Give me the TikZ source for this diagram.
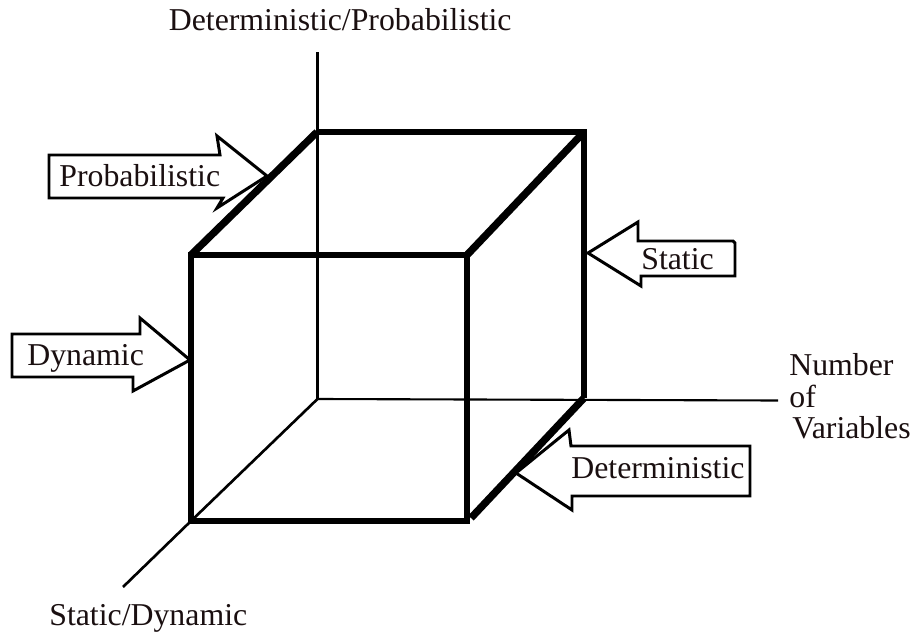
\documentclass[tikz,border=0pt]{standalone}
\usepackage{fontspec}
\setmainfont{Liberation Serif}
\usepackage{xcolor}
\definecolor{inkdark}{HTML}{1A0F10}
\tikzset{
  thinedge/.style={line width=1.2pt, black},
  thindiag/.style={line width=1.5pt, black},
  frontedge/.style={line width=3pt, black, line join=miter},
  diagedge/.style={line width=4.2pt, black},
  callout/.style={line width=1.7pt, black, fill=white, line join=miter},
  lab/.style={anchor=base west, inner sep=0pt, text=inkdark, font=\fontsize{18.1}{22}\selectfont},
}
\begin{document}
\begin{tikzpicture}[x=0.02cm, y=-0.02cm]
\useasboundingbox (0,0) rectangle (914,632);
\coordinate (ftl) at (191,255); \coordinate (ftr) at (467,255);
\coordinate (fbl) at (191,521); \coordinate (fbr) at (467,521);
\coordinate (btl) at (317,132); \coordinate (btr) at (584,132);
\coordinate (bbl) at (317.5,399); \coordinate (bbr) at (584,398);
\coordinate (ztop) at (317.5,52); \coordinate (xend) at (778,400.5); \coordinate (yend) at (123,587);
\coordinate (dend) at (471,518);
\draw[thinedge] (ztop) -- (bbl);
\draw[thinedge] (bbl) -- (xend);
\draw[thindiag] (bbl) -- (fbl) -- (yend);
\draw[frontedge] (ftl) -- (ftr) -- (fbr) -- (fbl) -- cycle;
\draw[frontedge] (btl) -- (btr) -- (bbr);
\draw[diagedge] (ftl) -- (btl);
\draw[diagedge] (ftr) -- (btr);
\draw[diagedge] (bbr) -- (dend);
\draw[callout] (49,155) -- (220,155) -- (217,136) -- (267,176) -- (217,208) -- (223,198) -- (49,198) -- cycle;
\draw[callout] (12,334) -- (140,334) -- (140,318) -- (190,360) -- (133,391) -- (133,377) -- (12,377) -- cycle;
\draw[callout] (588,253) -- (638,222) -- (638,241) -- (733,241) -- (735,243) -- (735,276) -- (641,276) -- (641,286) -- cycle;
\draw[callout] (516,473) -- (569,430) -- (571,446) -- (750,446) -- (750,496) -- (572,496) -- (572,510) -- cycle;
\node[lab] (axisz) at (168.5,31) {Deterministic/Probabilistic};
\node[lab] (prob) at (59,186) {Probabilistic};
\node[lab] (dyn) at (27,365) {Dynamic};
\node[lab] (stat) at (641,269) {Static};
\node[lab] (det) at (571,478) {Deterministic};
\node[lab] (numb) at (789,375) {Number};
\node[lab] (numo) at (789,407) {of};
\node[lab] (numv) at (792,438) {Variables};
\node[lab] (axisy) at (49,625) {Static/Dynamic};
\end{tikzpicture}
\end{document}
